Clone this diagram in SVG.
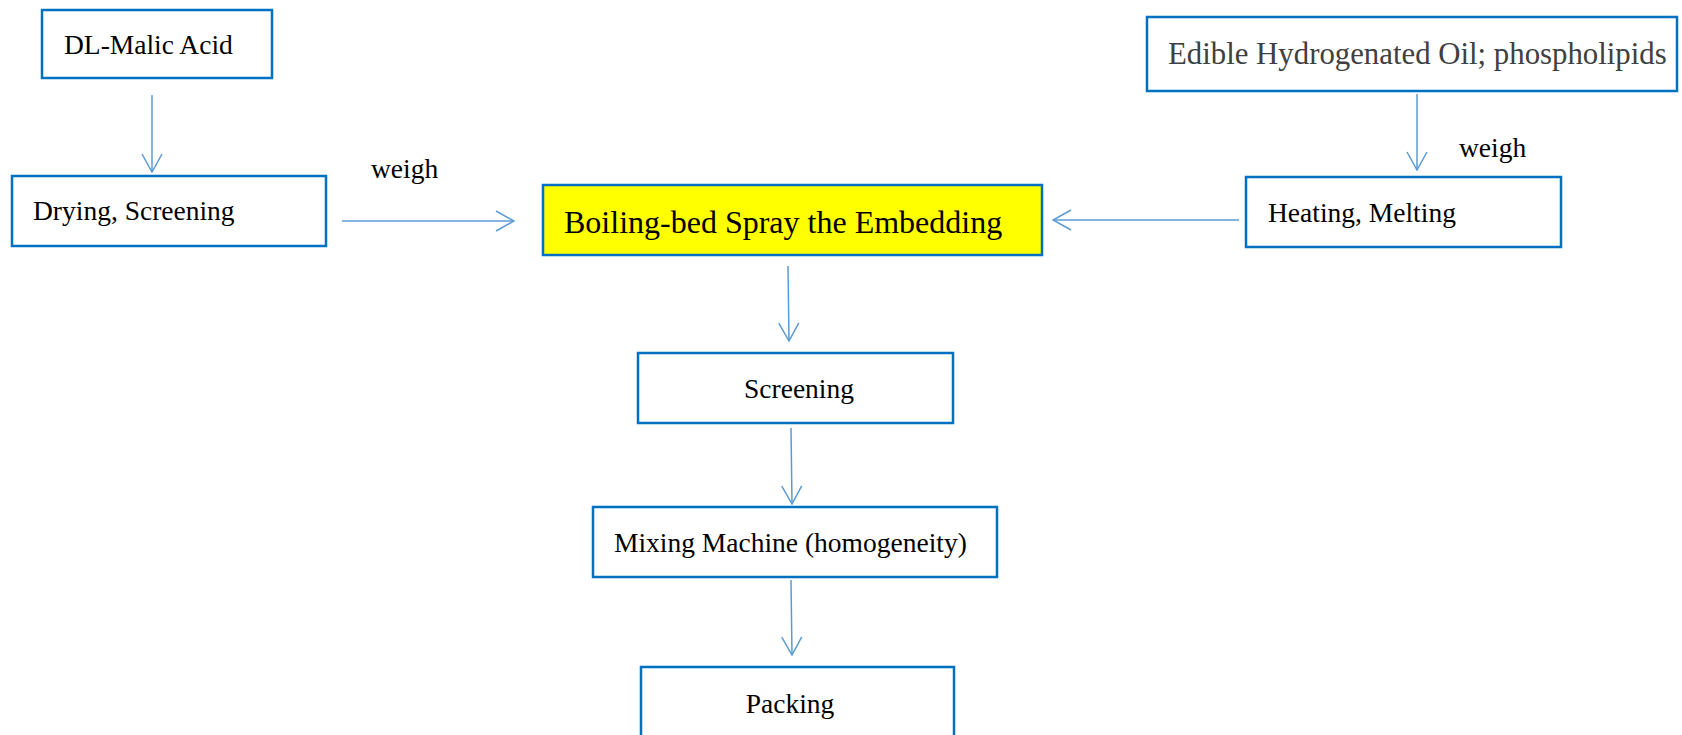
<svg xmlns="http://www.w3.org/2000/svg" width="1682" height="735" viewBox="0 0 1682 735">
<style>
.box{fill:#fff;stroke:#0070C0;stroke-width:2.5}
.hl{fill:#FFFF00;stroke:#0070C0;stroke-width:2.5}
.t{font-family:"Liberation Serif","Times New Roman",serif;font-size:27.5px;fill:#000}
.big{font-size:32px}
.grey{fill:#404040;font-size:30.8px}
.c{stroke:#5B9BD5;stroke-width:1.5;fill:none;marker-end:url(#ah)}
</style>
<defs>
<marker id="ah" markerUnits="userSpaceOnUse" viewBox="0 0 20 22" markerWidth="20" markerHeight="22" refX="19" refY="11" orient="auto">
<path d="M1,1 L19,11 L1,21" fill="none" stroke="#5B9BD5" stroke-width="1.5"/>
</marker>
</defs>
<rect width="1682" height="735" fill="#fff"/>
<g id="connectors">
<line class="c" x1="152" y1="95" x2="152" y2="172"/>
<line class="c" x1="342" y1="221" x2="514" y2="221"/>
<line class="c" x1="1417" y1="94" x2="1417" y2="170"/>
<line class="c" x1="1239" y1="220" x2="1053" y2="220"/>
<line class="c" x1="788" y1="266" x2="789" y2="341"/>
<line class="c" x1="791" y1="428" x2="792" y2="504"/>
<line class="c" x1="791" y1="580" x2="792" y2="655"/>
<text class="t" x="371" y="178">weigh</text>
<text class="t" x="1459" y="157">weigh</text>
</g>
<g id="n-malic">
<rect class="box" x="42" y="10" width="230" height="68"/>
<text class="t" x="64" y="54">DL-Malic Acid</text>
</g>
<g id="n-drying">
<rect class="box" x="12" y="176" width="314" height="70"/>
<text class="t" x="33" y="220">Drying, Screening</text>
</g>
<g id="n-boiling">
<rect class="hl" x="543" y="185" width="499" height="70"/>
<text class="t big" x="564" y="233">Boiling-bed Spray the Embedding</text>
</g>
<g id="n-oil">
<rect class="box" x="1147" y="17" width="530" height="74"/>
<text class="t grey" x="1168" y="64">Edible Hydrogenated Oil; phospholipids</text>
</g>
<g id="n-heating">
<rect class="box" x="1246" y="177" width="315" height="70"/>
<text class="t" x="1268" y="222">Heating, Melting</text>
</g>
<g id="n-screening">
<rect class="box" x="638" y="353" width="315" height="70"/>
<text class="t" x="799" y="398" text-anchor="middle">Screening</text>
</g>
<g id="n-mixing">
<rect class="box" x="593" y="507" width="404" height="70"/>
<text class="t" x="614" y="552">Mixing Machine (homogeneity)</text>
</g>
<g id="n-packing">
<rect class="box" x="641" y="667" width="313" height="90"/>
<text class="t" x="790" y="713" text-anchor="middle">Packing</text>
</g>
</svg>
